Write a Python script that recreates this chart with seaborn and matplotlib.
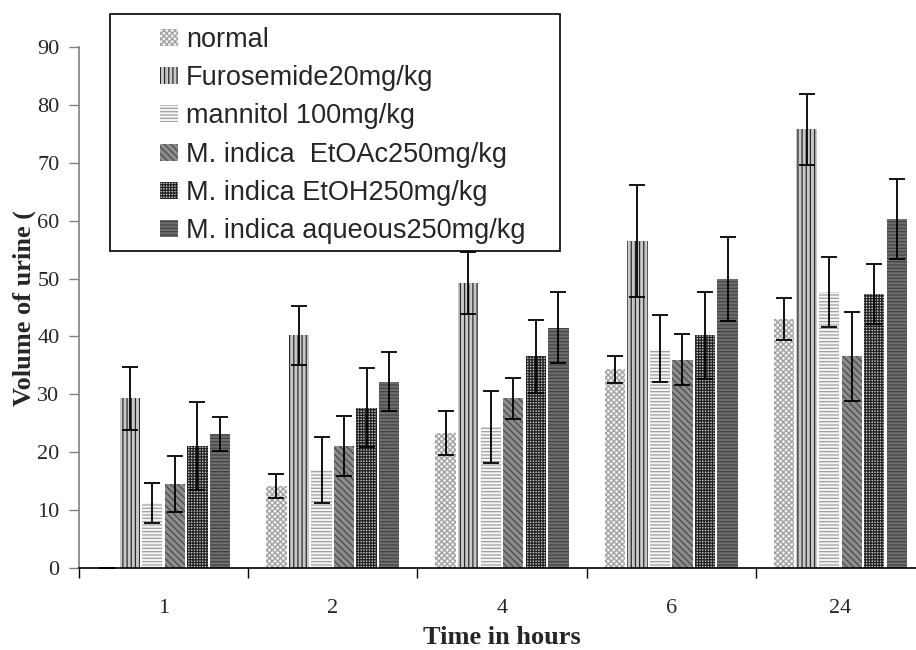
import matplotlib
matplotlib.use("Agg")
import matplotlib.pyplot as plt
from matplotlib.patches import Patch, Rectangle
import seaborn as sns
import pandas as pd
import numpy as np

sns.set_theme(style="white")
plt.rcParams["font.family"] = ["Liberation Serif", "DejaVu Serif"]
plt.rcParams["hatch.linewidth"] = 0.9

hours = ["1", "2", "4", "6", "24"]
groups = ["normal", "Furosemide20mg/kg", "mannitol 100mg/kg",
          "M. indica  EtOAc250mg/kg", "M. indica EtOH250mg/kg",
          "M. indica aqueous250mg/kg"]

normal = [0, 14.2, 23.4, 34.3, 43.0]
normal_err = [0, 2.1, 3.8, 2.3, 3.6]
furosemide = [29.3, 40.2, 49.2, 56.5, 75.8]
furosemide_err = [5.4, 5.1, 5.4, 9.6, 6.1]
mannitol = [11.2, 17.0, 24.4, 37.9, 47.7]
mannitol_err = [3.5, 5.7, 6.2, 5.8, 6.1]
etoac = [14.5, 21.1, 29.3, 36.0, 36.6]
etoac_err = [4.9, 5.2, 3.5, 4.4, 7.7]
etoh = [21.1, 27.7, 36.6, 40.2, 47.4]
etoh_err = [7.6, 6.8, 6.3, 7.5, 5.2]
aqueous = [23.1, 32.2, 41.5, 49.9, 60.3]
aqueous_err = [2.9, 5.1, 6.1, 7.2, 6.9]

values = [normal, furosemide, mannitol, etoac, etoh, aqueous]
errors = [normal_err, furosemide_err, mannitol_err, etoac_err, etoh_err, aqueous_err]

# grey fills + hatch patterns, like the old excel-style print
faces = ["#f0f0f0", "#c8c8c8", "#f4f4f4", "#8c8c8c", "#c4c4c4", "#6e6e6e"]
hatch_cols = ["#a0a0a0", "#2a2a2a", "#a0a0a0", "#4a4a4a", "#222222", "#444444"]
hatches = ["xxxxxx", "||||", "-----", "\\\\\\\\\\", "++++++", "-----"]

rows = []
for g, vals in zip(groups, values):
    for h, v in zip(hours, vals):
        rows.append({"hour": h, "volume": v, "group": g})
df = pd.DataFrame(rows)

fig = plt.figure(figsize=(9.16, 6.5), dpi=100)
ax = fig.add_axes([79 / 916, 1 - 568 / 650, 846 / 916, 521 / 650])

sns.barplot(data=df, x="hour", y="volume", hue="group", order=hours,
            hue_order=groups, errorbar=None, gap=0.1, linewidth=0,
            legend=False, ax=ax)

bar_conts = list(ax.containers)
for i, cont in enumerate(bar_conts):
    for bar in cont:
        bar.set_facecolor(faces[i])
        bar.set_edgecolor(hatch_cols[i])
        bar.set_hatch(hatches[i])
        bar.set_linewidth(0)
    xs = [b.get_x() + b.get_width() / 2 for b in cont]
    ax.errorbar(xs, values[i], yerr=errors[i], fmt="none", ecolor="black",
                elinewidth=1.3, capsize=5.5, capthick=1.3, zorder=3)

ax.set_xlim(-0.5, len(hours) - 0.5)
ax.set_ylim(0, 90)
ax.set_yticks(range(0, 91, 10))
ax.set_xticks(np.arange(len(hours) + 1) - 0.5, labels=[""] * (len(hours) + 1))
ax.set_xticks(range(len(hours)), labels=hours, minor=True)

ax.tick_params(axis="x", which="major", direction="out", length=7, width=1,
               color="black", bottom=True)
ax.tick_params(axis="x", which="minor", length=0, pad=22, labelsize=16)
ax.tick_params(axis="y", direction="out", length=7, width=1, color="#808080",
               left=True, pad=7, labelsize=16)

sns.despine(ax=ax)
ax.spines["left"].set_color("#808080")
ax.spines["left"].set_linewidth(1.2)
ax.spines["bottom"].set_color("black")
ax.spines["bottom"].set_linewidth(1.2)

ax.set_xlabel("Time in hours", fontsize=19, fontweight="bold")
ax.set_ylabel("Volume of urine (", fontsize=19, fontweight="bold")
ax.xaxis.set_label_coords(0.5, -(626 - 568) / 521)
ax.yaxis.set_label_coords(-(79 - 36) / 846, 0.5)

# legend box drawn over the plot
box = Rectangle((110 / 916, 1 - 251 / 650), 450 / 916, 237 / 650,
                transform=fig.transFigure, facecolor="white",
                edgecolor="black", linewidth=1.2, zorder=3)
fig.add_artist(box)

handles = [Patch(facecolor=faces[i], edgecolor=hatch_cols[i], hatch=hatches[i],
                 linewidth=0) for i in range(len(groups))]
leg = fig.legend(handles, groups, loc="upper left",
                 bbox_to_anchor=(133 / 916, 1.0), frameon=False,
                 prop={"family": ["Liberation Sans", "DejaVu Sans"], "size": 19.5},
                 handlelength=0.65, handleheight=0.58, labelspacing=0.45,
                 handletextpad=0.3, borderpad=0.5)
leg.set_zorder(6)

fig.savefig("out.png", dpi=100)
